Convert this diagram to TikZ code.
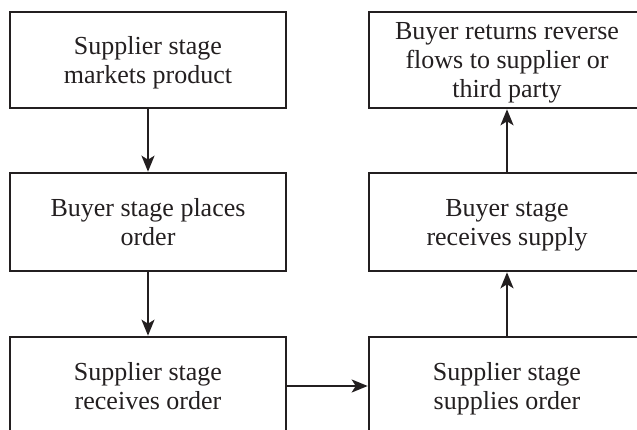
\documentclass[tikz,border=0pt]{standalone}
\usepackage{fontspec}
\setmainfont{Liberation Serif}
\usetikzlibrary{arrows.meta}
\definecolor{ink}{RGB}{35,31,32}
\begin{document}
\begin{tikzpicture}[x=1pt,y=-1pt,
  box/.style={draw=ink, line width=2.6pt, minimum width=276pt, minimum height=97pt,
    align=center, font=\fontsize{26}{29}\selectfont, text=ink, inner sep=0pt, text depth=0pt},
  flow/.style={draw=ink, line width=2.2pt, -{Stealth[length=16pt,width=13pt,inset=4pt]}}]
\useasboundingbox (0,0) rectangle (637,430);
\clip (0,0) rectangle (637,430);
\node[box, minimum height=96pt] (s1) at (148,60) {Supplier stage\\markets product};
\node[box, minimum height=98pt] (b1) at (148,222) {Buyer stage places\\order};
\node[box, minimum height=98pt] (s2) at (148,386) {Supplier stage\\receives order};
\node[box, minimum height=98pt] (s3) at (507,386) {Supplier stage\\supplies order};
\node[box, minimum height=98pt] (b2) at (507,222) {Buyer stage\\receives supply};
\node[box, minimum height=96pt] (b3) at (507,60) {Buyer returns reverse\\flows to supplier or\\third party};
\draw[flow] (s1) -- (b1);
\draw[flow] (b1) -- (s2);
\draw[flow] (s2) -- (s3);
\draw[flow] (s3) -- (b2);
\draw[flow] (b2) -- (b3);
\end{tikzpicture}
\end{document}
